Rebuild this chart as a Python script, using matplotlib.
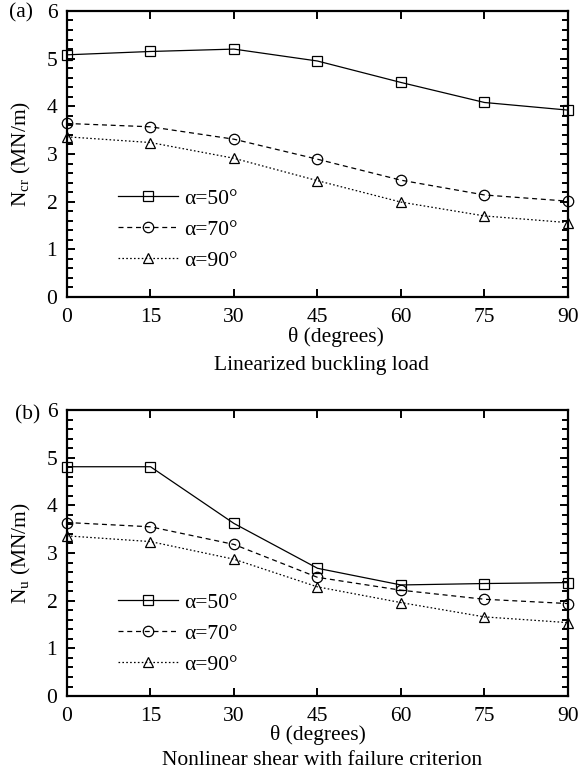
import numpy as np
import matplotlib
matplotlib.use("Agg")
import matplotlib.pyplot as plt
from matplotlib.ticker import MultipleLocator

plt.rcParams['font.family'] = ['Liberation Serif', 'DejaVu Serif']
plt.rcParams['mathtext.fontset'] = 'custom'
plt.rcParams['mathtext.rm'] = 'Liberation Serif'
plt.rcParams['mathtext.it'] = 'Liberation Serif:italic'

FS = 15.5

theta = [0, 15, 30, 45, 60, 75, 90]
alpha_labels = ['α=50°', 'α=70°', 'α=90°']

# (a) linearized buckling load, MN/m
ncr_50 = [5.08, 5.15, 5.20, 4.95, 4.50, 4.08, 3.92]
ncr_70 = [3.64, 3.57, 3.31, 2.89, 2.45, 2.14, 2.01]
ncr_90 = [3.36, 3.24, 2.91, 2.44, 1.99, 1.70, 1.56]

# (b) nonlinear shear with failure criterion, MN/m
nu_50 = [4.81, 4.81, 3.62, 2.68, 2.33, 2.36, 2.38]
nu_70 = [3.64, 3.55, 3.18, 2.49, 2.22, 2.03, 1.94]
nu_90 = [3.36, 3.24, 2.87, 2.29, 1.96, 1.66, 1.54]

styles = [('-', 's'), ((0, (4, 3)), 'o'), ((0, (1.3, 1.8)), '^')]

fig = plt.figure(figsize=(5.79, 7.72), dpi=100)
ax_a = fig.add_axes([0.1157, 0.6153, 0.8653, 0.3705])
ax_b = fig.add_axes([0.1157, 0.0984, 0.8653, 0.3705])


def draw_panel(ax, series, ylabel, legend_top, xlabel_x, xlabel_y):
    for vals, (ls, mk), lab in zip(series, styles, alpha_labels):
        ax.plot(theta, vals, linestyle=ls, color='black', lw=0.9,
                marker=mk, markersize=7.5, markerfacecolor='none',
                markeredgecolor='black', markeredgewidth=0.9,
                label=lab, clip_on=False, zorder=3)
    ax.set_xlim(0, 90)
    ax.set_ylim(0, 6)
    ax.xaxis.set_major_locator(MultipleLocator(15))
    ax.yaxis.set_major_locator(MultipleLocator(1))
    ax.yaxis.set_minor_locator(MultipleLocator(0.2))
    ax.tick_params(which='both', direction='in', top=True, right=True,
                   width=1.4, labelsize=FS)
    ax.tick_params(which='major', length=6)
    ax.tick_params(which='minor', length=4)
    ax.tick_params(axis='x', pad=8)
    ax.tick_params(axis='y', pad=7)
    for sp in ax.spines.values():
        sp.set_linewidth(1.6)
    ax.set_ylabel(ylabel, fontsize=FS, va='center')
    ax.yaxis.set_label_coords(-0.09, 0.5)
    ax.set_xlabel('θ (degrees)', fontsize=FS)
    ax.xaxis.set_label_coords(xlabel_x, xlabel_y)
    ax.legend(loc='upper left', bbox_to_anchor=(0.102, legend_top),
              frameon=False, fontsize=FS, handlelength=2.8,
              handletextpad=0.25, labelspacing=0.5, borderpad=0,
              borderaxespad=0)


draw_panel(ax_a, [ncr_50, ncr_70, ncr_90], r'N$_{\rm cr}$ (MN/m)',
           0.378, 0.537, -0.105)
draw_panel(ax_b, [nu_50, nu_70, nu_90], r'N$_{\rm u}$ (MN/m)',
           0.361, 0.5, -0.1)

fig.text(0.036, 0.983, '(a)', fontsize=FS, ha='center', va='center')
fig.text(0.048, 0.4624, '(b)', fontsize=FS, ha='center', va='center')
fig.text(0.556, 0.526, 'Linearized buckling load', fontsize=FS,
         ha='center', va='center')
fig.text(0.556, 0.0155, 'Nonlinear shear with failure criterion',
         fontsize=FS, ha='center', va='center')

fig.savefig('out.png', dpi=100)
